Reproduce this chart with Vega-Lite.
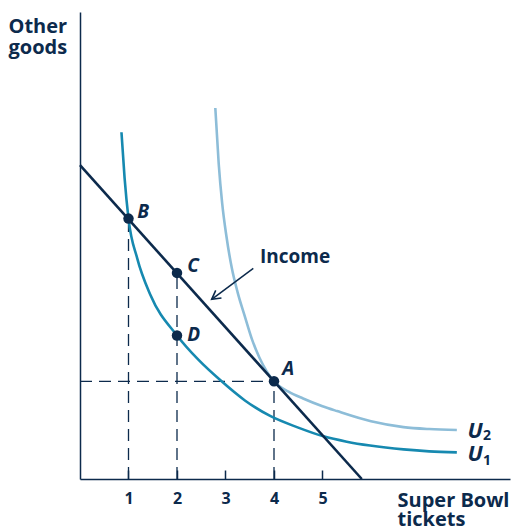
{
  "$schema": "https://vega.github.io/schema/vega-lite/v6.json",
  "width": 430,
  "height": 467,
  "autosize": {"type": "none"},
  "padding": {"left": 80, "top": 12, "right": 2, "bottom": 51},
  "background": "white",
  "config": {"view": {"stroke": null}, "font": "Open Sans"},
  "datasets": {
    "curves": [
      {"series": "U1", "x": 0.855, "y": 7.15},
      {"series": "U1", "x": 0.92, "y": 6.2},
      {"series": "U1", "x": 1.0, "y": 5.37},
      {"series": "U1", "x": 1.18, "y": 4.55},
      {"series": "U1", "x": 1.45, "y": 3.8},
      {"series": "U1", "x": 2.0, "y": 2.96},
      {"series": "U1", "x": 2.45, "y": 2.45},
      {"series": "U1", "x": 2.89, "y": 2.04},
      {"series": "U1", "x": 3.4, "y": 1.62},
      {"series": "U1", "x": 3.92, "y": 1.3},
      {"series": "U1", "x": 4.5, "y": 1.06},
      {"series": "U1", "x": 5.02, "y": 0.88},
      {"series": "U1", "x": 5.5, "y": 0.77},
      {"series": "U1", "x": 5.98, "y": 0.69},
      {"series": "U1", "x": 6.67, "y": 0.61},
      {"series": "U1", "x": 7.2, "y": 0.57},
      {"series": "U1", "x": 7.77, "y": 0.55},
      {"series": "U2", "x": 2.79, "y": 7.65},
      {"series": "U2", "x": 2.86, "y": 6.5},
      {"series": "U2", "x": 2.93, "y": 5.7},
      {"series": "U2", "x": 3.02, "y": 5.0},
      {"series": "U2", "x": 3.13, "y": 4.35},
      {"series": "U2", "x": 3.25, "y": 3.85},
      {"series": "U2", "x": 3.4, "y": 3.35},
      {"series": "U2", "x": 3.55, "y": 2.87},
      {"series": "U2", "x": 3.7, "y": 2.5},
      {"series": "U2", "x": 3.85, "y": 2.22},
      {"series": "U2", "x": 4.0, "y": 2.014},
      {"series": "U2", "x": 4.3, "y": 1.8},
      {"series": "U2", "x": 4.6, "y": 1.66},
      {"series": "U2", "x": 5.0, "y": 1.5},
      {"series": "U2", "x": 5.3, "y": 1.4},
      {"series": "U2", "x": 6.0, "y": 1.19},
      {"series": "U2", "x": 6.67, "y": 1.07},
      {"series": "U2", "x": 7.2, "y": 1.03},
      {"series": "U2", "x": 7.77, "y": 1.01},
      {"series": "Income", "x": 0.0, "y": 6.47},
      {"series": "Income", "x": 5.81, "y": 0.0}
    ],
    "guides": [
      {"x": 1, "y": 0, "x2": 1, "y2": 5.37},
      {"x": 2, "y": 0, "x2": 2, "y2": 4.25},
      {"x": 4, "y": 0, "x2": 4, "y2": 2.014},
      {"x": 0, "y": 2.014, "x2": 4, "y2": 2.014}
    ],
    "arrow": [
      {"x": 3.573, "y": 4.344, "x2": 2.715, "y2": 3.705}
    ],
    "arrowhead": [
      {"x": 2.715, "y": 3.705}
    ],
    "points": [
      {"name": "B", "x": 1, "y": 5.37},
      {"name": "C", "x": 2, "y": 4.25},
      {"name": "D", "x": 2, "y": 2.96},
      {"name": "A", "x": 4, "y": 2.014}
    ],
    "pointLabels": [
      {"text": "B", "x": 1.18, "y": 5.38},
      {"text": "C", "x": 2.21, "y": 4.27},
      {"text": "D", "x": 2.21, "y": 2.845},
      {"text": "A", "x": 4.17, "y": 2.144}
    ],
    "bigLabels": [
      {"text": "U", "x": 7.99, "y": 0.84},
      {"text": "U", "x": 7.99, "y": 0.377}
    ],
    "subLabels": [
      {"text": "2", "x": 8.31, "y": 0.8},
      {"text": "1", "x": 8.31, "y": 0.29}
    ],
    "incomeLabel": [
      {"text": "Income", "x": 3.711, "y": 4.454}
    ]
  },
  "encoding": {
    "x": {
      "field": "x",
      "type": "quantitative",
      "scale": {"domain": [0, 8.866], "nice": false, "zero": false},
      "axis": {
        "values": [1, 2, 3, 4, 5],
        "title": ["Super Bowl", "tickets"],
        "titleX": 317,
        "titleY": 27,
        "titleAngle": 0,
        "titleAlign": "left",
        "titleBaseline": "alphabetic",
        "titleFont": "Open Sans",
        "titleFontSize": 20,
        "titleFontWeight": "bold",
        "titleColor": "#0c2a4c",
        "titleLineHeight": 19,
        "domainColor": "#0c2a4c",
        "domainWidth": 1.5,
        "tickColor": "#0c2a4c",
        "tickWidth": 1.5,
        "tickSize": -9,
        "labelPadding": 20,
        "labelFont": "Open Sans",
        "labelFontSize": 16,
        "labelFontWeight": "bold",
        "labelColor": "#0c2a4c",
        "labelFlush": false,
        "grid": false
      }
    },
    "y": {
      "field": "y",
      "type": "quantitative",
      "scale": {"domain": [0, 9.63], "nice": false, "zero": false},
      "axis": {
        "title": ["Other", "goods"],
        "titleX": -72,
        "titleY": 20,
        "titleAngle": 0,
        "titleAlign": "left",
        "titleBaseline": "alphabetic",
        "titleFont": "Open Sans",
        "titleFontSize": 20,
        "titleFontWeight": "bold",
        "titleColor": "#0c2a4c",
        "titleLineHeight": 21,
        "labels": false,
        "ticks": false,
        "grid": false,
        "domainColor": "#0c2a4c",
        "domainWidth": 1.5
      }
    }
  },
  "layer": [
    {
      "data": {"name": "guides"},
      "mark": {"type": "rule", "color": "#0c2a4c", "strokeWidth": 1.3, "strokeDash": [12, 7]},
      "encoding": {"x2": {"field": "x2"}, "y2": {"field": "y2"}}
    },
    {
      "data": {"name": "curves"},
      "mark": {"type": "line", "interpolate": "monotone", "strokeWidth": 2.6},
      "encoding": {
        "color": {
          "field": "series",
          "type": "nominal",
          "scale": {"domain": ["U1", "U2", "Income"], "range": ["#1689b0", "#8dbdd8", "#0c2a4c"]},
          "legend": null
        },
        "detail": {"field": "series"}
      }
    },
    {
      "data": {"name": "arrow"},
      "mark": {"type": "rule", "color": "#0c2a4c", "strokeWidth": 1.5},
      "encoding": {"x2": {"field": "x2"}, "y2": {"field": "y2"}}
    },
    {
      "data": {"name": "arrowhead"},
      "mark": {
        "type": "point",
        "shape": "M -0.55 1 L 0 0 L 0.55 1",
        "filled": false,
        "stroke": "#0c2a4c",
        "strokeWidth": 1.6,
        "size": 300,
        "angle": 233,
        "opacity": 1
      }
    },
    {
      "data": {"name": "points"},
      "mark": {"type": "point", "shape": "circle", "filled": true, "color": "#0c2a4c", "size": 110, "opacity": 1}
    },
    {
      "data": {"name": "pointLabels"},
      "mark": {"type": "text", "align": "left", "baseline": "alphabetic", "font": "Open Sans", "fontSize": 19, "fontWeight": "bold", "fontStyle": "italic", "color": "#0c2a4c"},
      "encoding": {"text": {"field": "text"}}
    },
    {
      "data": {"name": "bigLabels"},
      "mark": {"type": "text", "align": "left", "baseline": "alphabetic", "font": "Open Sans", "fontSize": 22, "fontWeight": "bold", "fontStyle": "italic", "color": "#0c2a4c"},
      "encoding": {"text": {"field": "text"}}
    },
    {
      "data": {"name": "subLabels"},
      "mark": {"type": "text", "align": "left", "baseline": "alphabetic", "font": "Open Sans", "fontSize": 14, "fontWeight": "bold", "color": "#0c2a4c"},
      "encoding": {"text": {"field": "text"}}
    },
    {
      "data": {"name": "incomeLabel"},
      "mark": {"type": "text", "align": "left", "baseline": "alphabetic", "font": "Open Sans", "fontSize": 19, "fontWeight": "bold", "color": "#0c2a4c"},
      "encoding": {"text": {"field": "text"}}
    }
  ]
}
